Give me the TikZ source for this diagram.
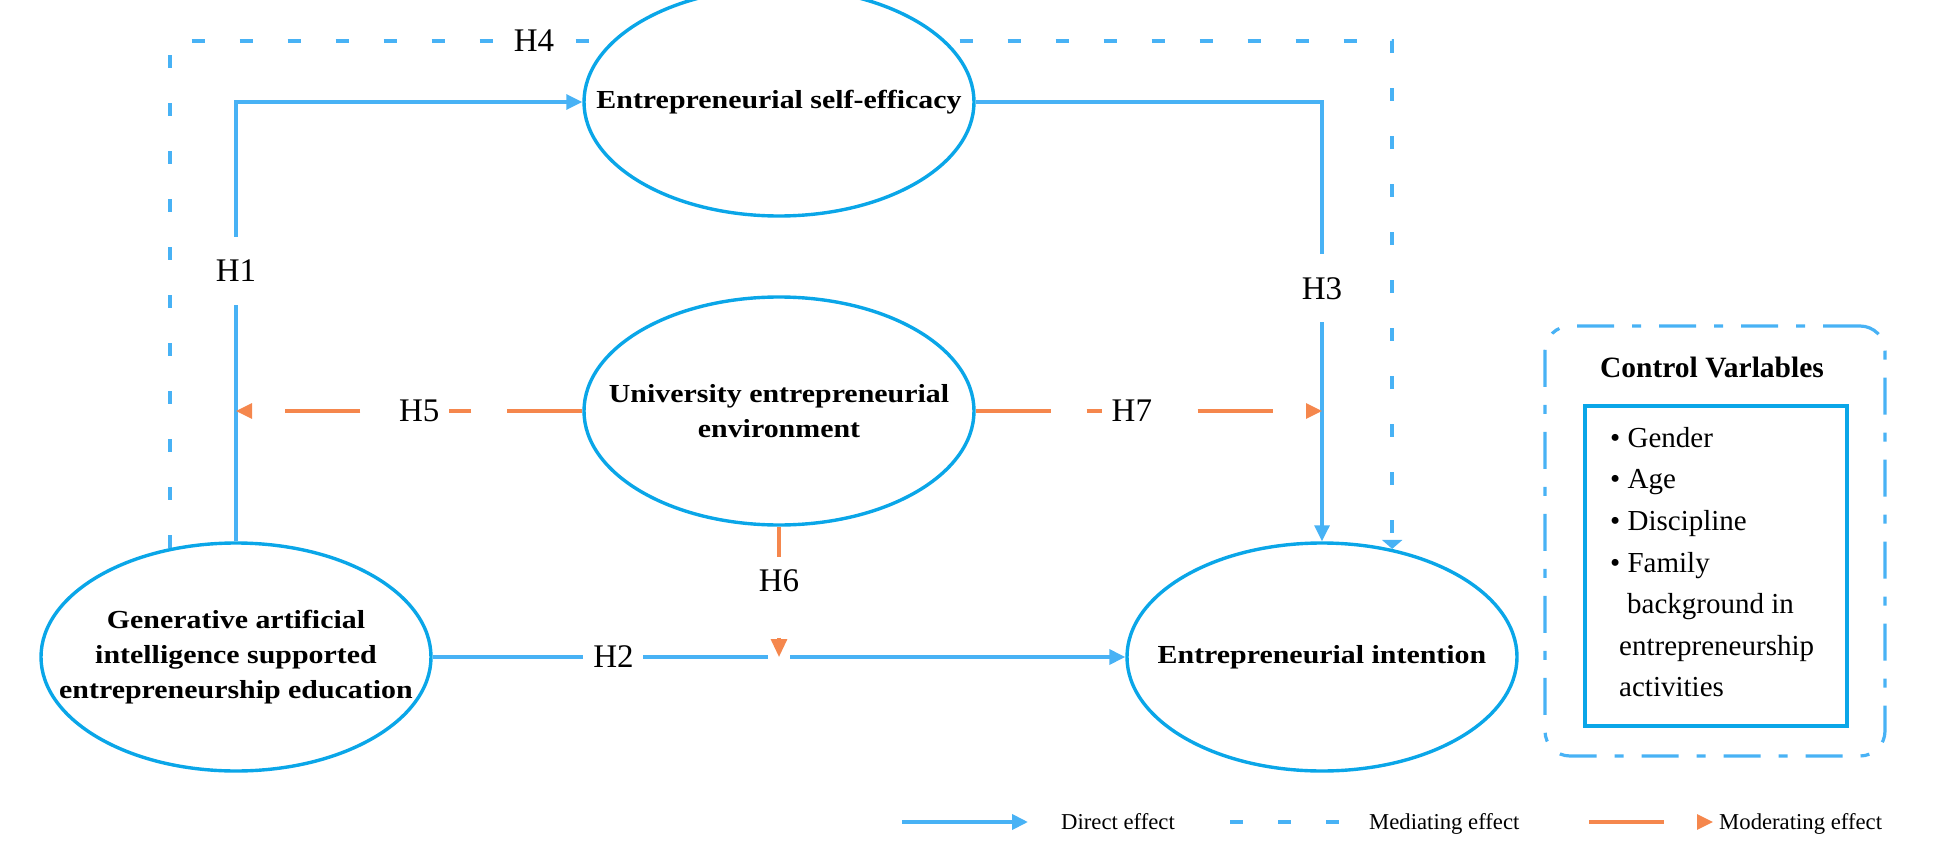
\documentclass[tikz,border=0pt]{standalone}
\usepackage{fontspec}
\setmainfont{Liberation Serif}
\newfontfamily\ellfont[FakeStretch=1.15]{Liberation Serif}
\usetikzlibrary{arrows.meta,shapes.geometric}
\definecolor{ellblue}{HTML}{0AA6E8}
\definecolor{lineblue}{HTML}{48B2F5}
\definecolor{modorange}{HTML}{F5874D}
\pgfdeclarelayer{background}
\pgfsetlayers{background,main}
\begin{document}
\begin{tikzpicture}[x=1pt,y=-1pt,
  ellbox/.style={ellipse, draw=ellblue, line width=3.4pt, fill=white, minimum width=390pt, minimum height=228pt, inner sep=0pt},
  elltext/.style={align=center, inner sep=0pt, font=\ellfont\bfseries\fontsize{26}{35}\selectfont},
  direct/.style={draw=lineblue, line width=3.2pt, -{Triangle[length=16pt,width=15pt]}},
  medi/.style={draw=lineblue, line width=4pt, dash pattern=on 13pt off 35pt},
  moder/.style={draw=modorange, line width=3.2pt, dash pattern=on 75pt off 36pt, -{Triangle[length=16pt,width=15pt]}},
  hlabel/.style={fill=white, inner sep=0pt, minimum width=60pt, minimum height=68pt, font=\fontsize{33}{40}\selectfont},
  legtext/.style={inner sep=0pt, font=\fontsize{22.7}{27}\selectfont},
  cvtext/.style={inner sep=0pt, align=left, font=\fontsize{29}{41.6}\selectfont}
]
\useasboundingbox (0,0) rectangle (1933,864);

% latent variables
\node[ellbox] (ESE) at (779,102) {};
\node[ellbox] (UEE) at (779,411) {};
\node[ellbox] (GAI) at (236,657) {};
\node[ellbox] (EI) at (1322,657) {};
\node[elltext] (ESEt) at (ESE.center) {Entrepreneurial self-efficacy};
\node[elltext] (UEEt) at (UEE.center) {University entrepreneurial\\environment};
\node[elltext] (GAIt) at (GAI.center) {Generative artificial\\intelligence supported\\entrepreneurship education};
\node[elltext] (EIt) at (EI.center) {Entrepreneurial intention};

\coordinate (mTop) at (780,41);

\begin{pgfonlayer}{background}
  % mediating path
  \draw[medi, -{Triangle[length=9pt,width=20pt]}] (GAI.121.7) |- (mTop) -| (EI.57.1);
  % direct paths
  \draw[direct] (GAI.north) |- node[hlabel, pos=0.308] (H1) {H1} (ESE.west);
  \draw[direct] (ESE.east) -| node[hlabel, pos=0.712] (H3) {H3} (EI.north);
  \draw[direct, line width=3.5pt] (GAI.east) -- node[hlabel, pos=0.261] (H2) {H2} (EI.west);
  \node[fill=white, inner sep=0pt, minimum width=22pt, minimum height=10pt] (gap) at (UEE.south |- EI.west) {};
  % moderating paths
  \draw[moder] (UEE.west) -- node[hlabel, pos=0.471] (H5) {H5} (UEE.west -| GAI.north);
  \draw[moder] (UEE.east) -- node[hlabel, pos=0.451] (H7) {H7} (UEE.east -| EI.north);
  \draw[moder, -{Triangle[length=18pt,width=16pt]}] (UEE.south) -- node[hlabel, minimum height=48pt, pos=0.417] (H6) {H6} (gap.center);
\end{pgfonlayer}
\node[hlabel] (H4) at (534,41) {H4};

% control variables
\node[draw=lineblue, line width=3.2pt, rounded corners=25pt, dash pattern=on 37pt off 18pt on 9pt off 18pt, minimum width=340pt, minimum height=430pt] (CVbox) at (1715,541) {};
\node[draw=ellblue, line width=3.4pt, minimum width=262pt, minimum height=320pt] (CVlist) at (1716,566) {};
\node[inner sep=0pt, font=\bfseries\fontsize{29.5}{35}\selectfont] (CVtitle) at (1712,367) {Control Varlables};
\node[cvtext, anchor=north west] (CVitems) at (1610,427) {\textbullet\ Gender\\\textbullet\ Age\\\textbullet\ Discipline\\\textbullet\ Family\\\hspace*{17pt}background in\\\hspace*{9pt}entrepreneurship\\\hspace*{9pt}activities};

% legend
\coordinate (ld1) at (902,822);
\coordinate (ld2) at (1028,822);
\coordinate (lm1) at (1230,822);
\coordinate (lm2) at (1340,822);
\coordinate (lo1) at (1589,822);
\coordinate (lo2) at (1713,822);
\draw[direct, line width=3.8pt] (ld1) -- (ld2);
\draw[medi] (lm1) -- (lm2);
\draw[moder] (lo1) -- (lo2);
\node[legtext, anchor=base west] (ldt) at (1061,829) {Direct effect};
\node[legtext, anchor=base west] (lmt) at (1369,829) {Mediating effect};
\node[legtext, anchor=base west] (lot) at (1719,829) {Moderating effect};
\end{tikzpicture}
\end{document}
